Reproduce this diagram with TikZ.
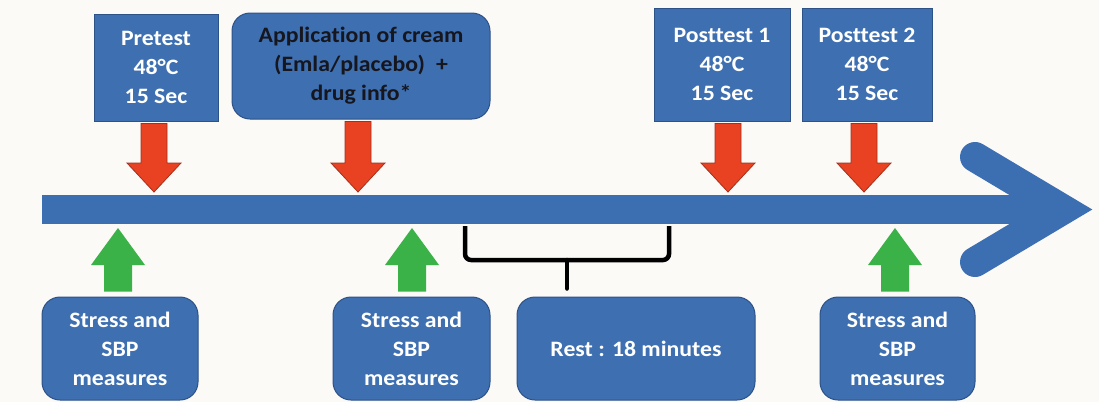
\documentclass[tikz,border=0pt]{standalone}
\usepackage{fontspec}
\setmainfont{Carlito}[FakeStretch=1.08, Ligatures=NoCommon]
\usetikzlibrary{calc}
\definecolor{bg}{RGB}{252,250,247}
\definecolor{boxblue}{RGB}{62,111,176}
\definecolor{boxedge}{RGB}{44,82,136}
\definecolor{lineblue}{RGB}{60,110,178}
\definecolor{redfill}{RGB}{232,66,34}
\definecolor{rededge}{RGB}{165,48,28}
\definecolor{greenfill}{RGB}{58,178,72}
\definecolor{darktext}{RGB}{22,22,30}
\tikzset{
  sqbox/.style={rectangle, fill=boxblue, draw=boxedge, line width=1pt, text=white,
    align=center, inner sep=0pt, font=\bfseries\fontsize{22}{29}\selectfont},
  rbox/.style={sqbox, rounded corners=18pt},
  redarr/.style={fill=redfill, draw=rededge, line width=0.8pt, line join=miter},
  greenarr/.style={fill=greenfill},
  bracestyle/.style={draw=black, line width=4.5pt, rounded corners=6pt}
}
\newcommand\DownArr[2]{\draw[redarr] let \p1=(#1), \p2=(#2) in
  (\x2-13pt,\y1-2pt) -- (\x2+13pt,\y1-2pt) -- (\x2+13pt,\y2+29pt) -- (\x2+27pt,\y2+29pt)
  -- (\x2,\y2) -- (\x2-27pt,\y2+29pt) -- (\x2-13pt,\y2+29pt) -- cycle;}
\newcommand\UpArr[2]{\fill[greenarr] let \p1=(#1), \p2=(#2) in
  (\x2-14pt,\y1+5pt) -- (\x2+14pt,\y1+5pt) -- (\x2+14pt,\y2-37pt) -- (\x2+27pt,\y2-37pt)
  -- (\x2,\y2) -- (\x2-27pt,\y2-37pt) -- (\x2-14pt,\y2-37pt) -- cycle;}
\begin{document}
\begin{tikzpicture}[x=1pt,y=-1pt]
\fill[bg] (0,0) rectangle (1099,402);
\useasboundingbox (0,0) rectangle (1099,402);
% timeline arrow
\fill[lineblue] (42,195) rectangle (1060,224);
\draw[lineblue, line width=30pt, line cap=round, line join=miter] (975,157) -- (1063,209.5) -- (975,262);
% top boxes
\node[sqbox, minimum width=124pt, minimum height=107pt] (pre) at (156,67.5) {Pretest\\48°C\\15 Sec};
\node[rbox, text=darktext, minimum width=258pt, minimum height=106pt] (app) at (361,66) {Application of cream\\(Emla/placebo)\enspace+\\drug info*};
\node[sqbox, minimum width=136pt, minimum height=113pt] (post1) at (722,64.5) {Posttest 1\\48°C\\15 Sec};
\node[sqbox, minimum width=130pt, minimum height=113pt] (post2) at (867,64.5) {Posttest 2\\48°C\\15 Sec};
% bottom boxes
\node[rbox, minimum width=156pt, minimum height=103pt] (m1) at (120,348.5) {Stress and\\SBP\\measures};
\node[rbox, minimum width=157pt, minimum height=103pt] (m2) at (411.5,348.5) {Stress and\\SBP\\measures};
\node[rbox, minimum width=238pt, minimum height=103pt] (rest) at (636,348.5) {Rest : 18 minutes};
\node[rbox, minimum width=155pt, minimum height=103pt] (m3) at (897.5,348.5) {Stress and\\SBP\\measures};
% tip coordinates on the timeline
\coordinate (t1) at (154,192);
\coordinate (t2) at (358,192);
\coordinate (t3) at (728,192);
\coordinate (t4) at (864,192);
\coordinate (g1) at (118,228);
\coordinate (g2) at (412,228);
\coordinate (g3) at (895,228);
% red arrows
\DownArr{pre.south}{t1}
\DownArr{app.south}{t2}
\DownArr{post1.south}{t3}
\DownArr{post2.south}{t4}
% green arrows
\UpArr{m1.north}{g1}
\UpArr{m2.north}{g2}
\UpArr{m3.north}{g3}
% brace
\coordinate (bl) at (465,226);
\coordinate (br) at (669,226);
\coordinate (bm) at (567,260);
\draw[bracestyle] (bl) |- (bm) -| (br);
\draw[bracestyle, rounded corners=0pt, line cap=round] (bm) -- ($(rest.north)+(-69,-8)$);
\end{tikzpicture}
\end{document}
